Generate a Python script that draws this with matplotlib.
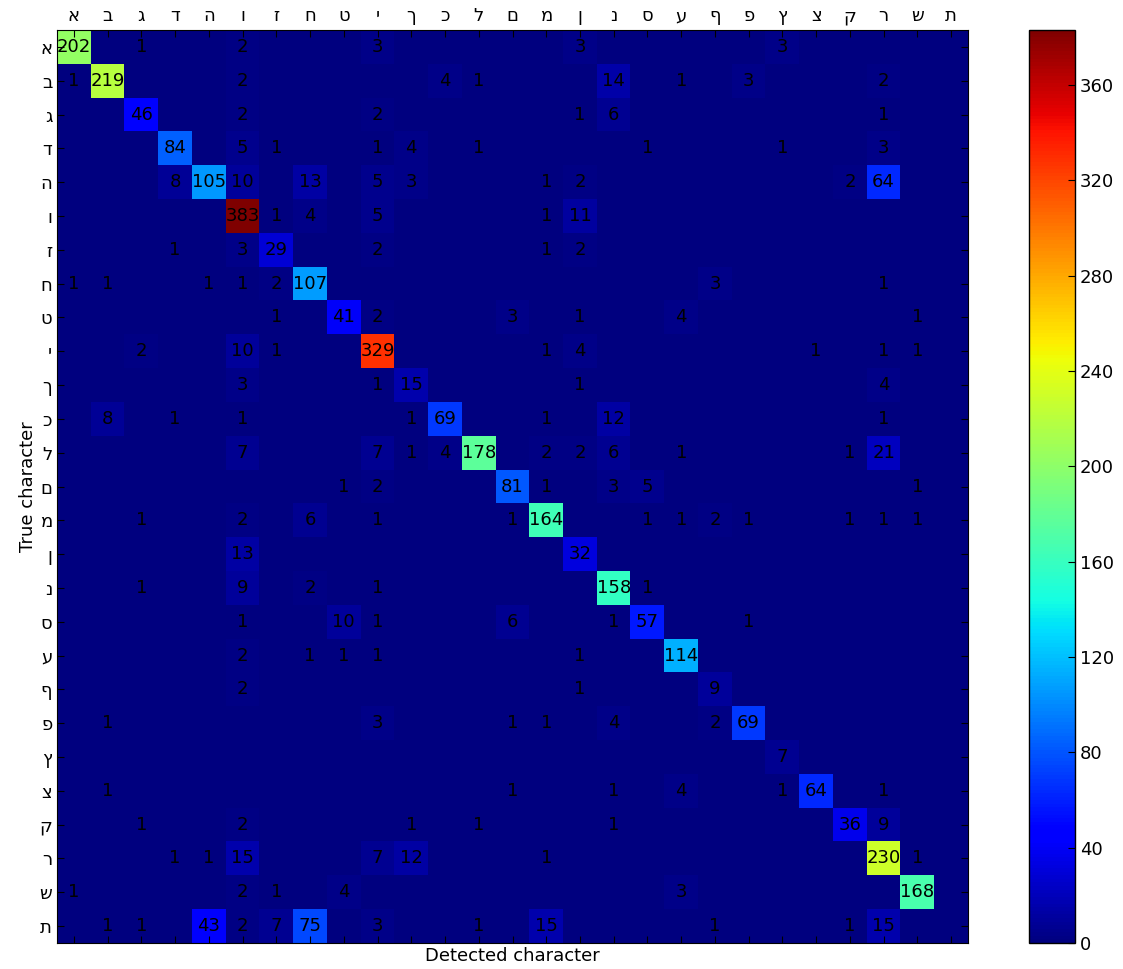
import numpy as np
import matplotlib
matplotlib.use("Agg")
import matplotlib.pyplot as plt

letters = ["א", "ב", "ג", "ד", "ה", "ו", "ז", "ח", "ט", "י", "ך", "כ", "ל", "ם",
           "מ", "ן", "נ", "ס", "ע", "ף", "פ", "ץ", "צ", "ק", "ר", "ש", "ת"]

# nonzero counts per true character: {detected column index: count}
row_alef = {0: 202, 2: 1, 5: 2, 9: 3, 15: 3, 21: 3}
row_bet = {0: 1, 1: 219, 5: 2, 11: 4, 12: 1, 16: 14, 18: 1, 20: 3, 24: 2}
row_gimel = {2: 46, 5: 2, 9: 2, 15: 1, 16: 6, 24: 1}
row_dalet = {3: 84, 5: 5, 6: 1, 9: 1, 10: 4, 12: 1, 17: 1, 21: 1, 24: 3}
row_he = {3: 8, 4: 105, 5: 10, 7: 13, 9: 5, 10: 3, 14: 1, 15: 2, 23: 2, 24: 64}
row_vav = {5: 383, 6: 1, 7: 4, 9: 5, 14: 1, 15: 11}
row_zayin = {3: 1, 5: 3, 6: 29, 9: 2, 14: 1, 15: 2}
row_het = {0: 1, 1: 1, 4: 1, 5: 1, 6: 2, 7: 107, 19: 3, 24: 1}
row_tet = {6: 1, 8: 41, 9: 2, 13: 3, 15: 1, 18: 4, 25: 1}
row_yod = {2: 2, 5: 10, 6: 1, 9: 329, 14: 1, 15: 4, 22: 1, 24: 1, 25: 1}
row_kaf_sofit = {5: 3, 9: 1, 10: 15, 15: 1, 24: 4}
row_kaf = {1: 8, 3: 1, 5: 1, 10: 1, 11: 69, 14: 1, 16: 12, 24: 1}
row_lamed = {5: 7, 9: 7, 10: 1, 11: 4, 12: 178, 14: 2, 15: 2, 16: 6, 18: 1, 23: 1, 24: 21}
row_mem_sofit = {8: 1, 9: 2, 13: 81, 14: 1, 16: 3, 17: 5, 25: 1}
row_mem = {2: 1, 5: 2, 7: 6, 9: 1, 13: 1, 14: 164, 17: 1, 18: 1, 19: 2, 20: 1, 23: 1, 24: 1, 25: 1}
row_nun_sofit = {5: 13, 15: 32}
row_nun = {2: 1, 5: 9, 7: 2, 9: 1, 16: 158, 17: 1}
row_samekh = {5: 1, 8: 10, 9: 1, 13: 6, 16: 1, 17: 57, 20: 1}
row_ayin = {5: 2, 7: 1, 8: 1, 9: 1, 15: 1, 18: 114}
row_pe_sofit = {5: 2, 15: 1, 19: 9}
row_pe = {1: 1, 9: 3, 13: 1, 14: 1, 16: 4, 19: 2, 20: 69}
row_tsadi_sofit = {21: 7}
row_tsadi = {1: 1, 13: 1, 16: 1, 18: 4, 21: 1, 22: 64, 24: 1}
row_qof = {2: 1, 5: 2, 10: 1, 12: 1, 16: 1, 23: 36, 24: 9}
row_resh = {3: 1, 4: 1, 5: 15, 9: 7, 10: 12, 14: 1, 24: 230, 25: 1}
row_shin = {0: 1, 5: 2, 6: 1, 8: 4, 18: 3, 25: 168}
row_tav = {1: 1, 2: 1, 4: 43, 5: 2, 6: 7, 7: 75, 9: 3, 12: 1, 14: 15, 19: 1, 23: 1, 24: 15}

rows = [row_alef, row_bet, row_gimel, row_dalet, row_he, row_vav, row_zayin,
        row_het, row_tet, row_yod, row_kaf_sofit, row_kaf, row_lamed,
        row_mem_sofit, row_mem, row_nun_sofit, row_nun, row_samekh, row_ayin,
        row_pe_sofit, row_pe, row_tsadi_sofit, row_tsadi, row_qof, row_resh,
        row_shin, row_tav]

n = len(letters)
cm = np.zeros((n, n), dtype=int)
for i, r in enumerate(rows):
    for j, v in r.items():
        cm[i, j] = v

W, H = 1123, 969
fig = plt.figure(figsize=(W / 100, H / 100), dpi=100)
ax = fig.add_axes([57 / W, 26 / H, 911 / W, 913 / H])
cax = fig.add_axes([1029 / W, 26 / H, 46 / W, 913 / H])

im = ax.imshow(cm, cmap="jet", interpolation="nearest", aspect="auto",
               vmin=0, vmax=cm.max())
for i in range(n):
    for j in range(n):
        if cm[i, j]:
            ax.text(j, i, str(cm[i, j]), ha="center", va="center",
                    fontsize=13, color="black")

ax.set_xticks(range(n))
ax.set_yticks(range(n))
ax.set_xticklabels(letters, fontsize=13)
ax.set_yticklabels(letters, fontsize=13)
ax.tick_params(direction="in", length=5, top=True, bottom=True, left=True,
               right=True, labeltop=True, labelbottom=False, color="black")
ax.set_xlabel("Detected character", fontsize=13, labelpad=3)
ax.set_ylabel("True character", fontsize=13, labelpad=2)

cb = fig.colorbar(im, cax=cax, ticks=range(0, 400, 40))
cb.ax.tick_params(direction="in", length=5, labelsize=13)
cb.outline.set_linewidth(1)

fig.savefig("out.png", dpi=100)
